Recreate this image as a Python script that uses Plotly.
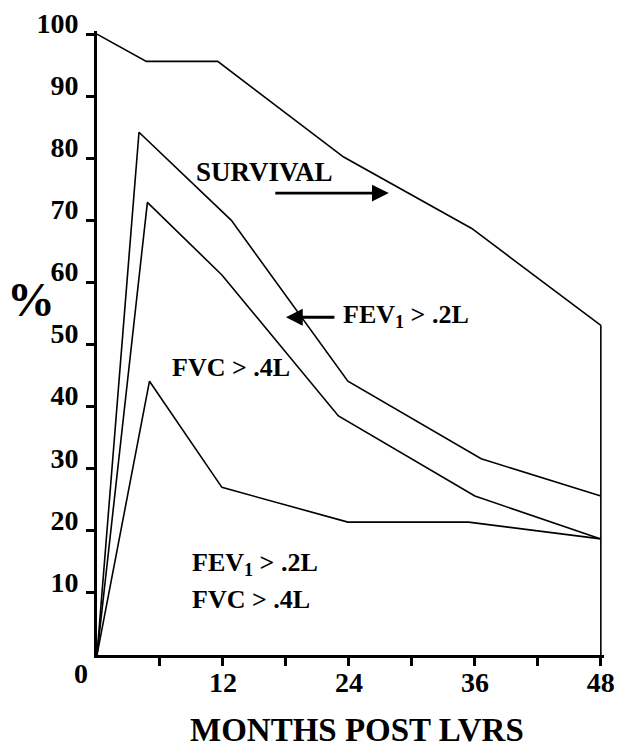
import plotly.graph_objects as go

# Data
survival_x = [0, 4.7, 11.5, 23.5, 35.7, 48]
survival_y = [100, 95.6, 95.6, 80.2, 68.7, 53.1]
fev1_x = [0, 4.0, 12.8, 23.9, 36.6, 48]
fev1_y = [0, 84.2, 70.0, 44.1, 31.6, 25.6]
fvc_x = [0, 4.8, 11.9, 23.0, 36.0, 48]
fvc_y = [0, 72.9, 61.2, 38.5, 25.6, 18.7]
both_x = [0, 5.0, 11.9, 23.9, 35.4, 48]
both_y = [0, 44.1, 27.0, 21.4, 21.4, 18.7]

x_tickvals = [6, 12, 18, 24, 30, 36, 42, 48]
x_ticktext = ["", "12", "", "24", "", "36", "", "48"]
y_tickvals = [10, 20, 30, 40, 50, 60, 70, 80, 90, 100]
y_ticktext = [str(v) for v in y_tickvals]

FONT = "Liberation Serif"
line = dict(color="black", width=1.6)

fig = go.Figure()
for xs, ys in [(survival_x, survival_y), (fev1_x, fev1_y), (fvc_x, fvc_y), (both_x, both_y)]:
    fig.add_trace(go.Scatter(x=xs, y=ys, mode="lines", line=line, showlegend=False, hoverinfo="skip"))
# right-hand closing edge at 48 months
fig.add_trace(go.Scatter(x=[survival_x[-1], survival_x[-1]], y=[0, survival_y[-1]], mode="lines",
                         line=line, showlegend=False, hoverinfo="skip"))

tfont = dict(family=FONT, size=26, color="black", weight="bold")
annotations = [
    dict(x=0, y=0, text="0", showarrow=False, xshift=-16, yshift=-18, xanchor="center",
         font=dict(family=FONT, size=28, color="black", weight="bold")),
    dict(x=0, y=0, xref="paper", yref="paper", text="%", showarrow=False, xanchor="center",
         yanchor="middle", xshift=-66, yshift=356,
         font=dict(family=FONT, size=48, color="black", weight="bold")),
    dict(x=0.5, y=0, xref="paper", yref="paper", text="MONTHS POST LVRS", showarrow=False,
         xanchor="center", yanchor="bottom", xshift=6, yshift=-95,
         font=dict(family=FONT, size=33, color="black", weight="bold")),
    dict(x=16.0, y=77.8, text="SURVIVAL", showarrow=False, xanchor="center", font=dict(tfont, size=27)),
    dict(x=27.8, y=74.4, ax=-115, ay=0, text="", showarrow=True, arrowhead=2,
         arrowsize=1.2, arrowwidth=2.8, arrowcolor="black"),
    dict(x=18.0, y=54.4, ax=50, ay=0, text="", showarrow=True, arrowhead=2,
         arrowsize=1.2, arrowwidth=2.8, arrowcolor="black"),
    dict(x=23.2, y=54.6, text="FEV<sub>1</sub> &gt; .2L", showarrow=False, xanchor="left", font=tfont),
    dict(x=12.8, y=46.3, text="FVC &gt; .4L", showarrow=False, xanchor="center", font=tfont),
    dict(x=8.9, y=14.6, text="FEV<sub>1</sub> &gt; .2L", showarrow=False, xanchor="left", font=tfont),
    dict(x=8.9, y=9.0, text="FVC &gt; .4L", showarrow=False, xanchor="left", font=tfont),
]

fig.update_layout(
    width=619, height=751,
    margin=dict(l=97, r=15, t=31, b=96, autoexpand=False),
    plot_bgcolor="white", paper_bgcolor="white",
    annotations=annotations,
    xaxis=dict(range=[0, 48.3], showgrid=False, zeroline=False, showline=True, linecolor="black",
               linewidth=3, ticks="outside", ticklen=8, tickwidth=3, tickcolor="black",
               tickvals=x_tickvals, ticktext=x_ticktext, ticklabelstandoff=-8, automargin=False,
               tickfont=dict(family=FONT, size=28, color="black", weight="bold")),
    yaxis=dict(range=[0, 100.5], showgrid=False, zeroline=False, showline=True, linecolor="black",
               linewidth=3, ticks="outside", ticklen=8, tickwidth=3, tickcolor="black",
               tickvals=y_tickvals, ticktext=y_ticktext, ticklabelshift=-11, ticklabelstandoff=2,
               automargin=False,
               tickfont=dict(family=FONT, size=28, color="black", weight="bold")),
)

fig.write_html("out.html", config={"displayModeBar": False},
               post_script="document.body.style.margin='0';document.body.style.overflow='hidden';")
